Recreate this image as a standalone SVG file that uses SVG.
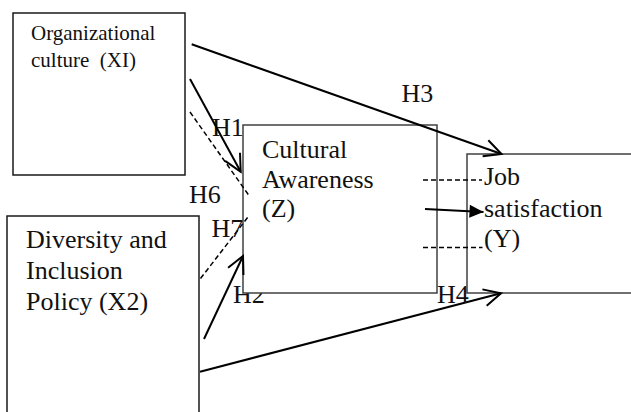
<svg xmlns="http://www.w3.org/2000/svg" width="631" height="412" viewBox="0 0 631 412">
<style>
  .box { fill: #fff; stroke: #1a1a1a; stroke-width: 1.5; }
  .boxg { fill: #fff; stroke: #404040; stroke-width: 1.5; }
  .t { font-family: "Liberation Serif", "Times New Roman", serif; fill: #111; }
  .t21 { font-size: 21px; }
  .t26 { font-size: 26px; }
  .ln { stroke: #000; stroke-width: 2; fill: none; }
  .dl { stroke: #000; stroke-width: 1.5; fill: none; stroke-dasharray: 5 3; }
</style>
<defs>
  <marker id="openArrow" markerUnits="userSpaceOnUse" markerWidth="40" markerHeight="40" refX="0" refY="0" orient="auto" overflow="visible">
    <path d="M-17,-8.5 L0,0 L-17,8.5" fill="none" stroke="#000" stroke-width="2"/>
  </marker>
  <marker id="solidArrow" markerUnits="userSpaceOnUse" markerWidth="40" markerHeight="40" refX="0" refY="0" orient="auto" overflow="visible">
    <path d="M-14,-6.5 L0,0 L-14,6.5 Z" fill="#000"/>
  </marker>
</defs>

<rect width="631" height="412" fill="#fff"/>

<g id="labels-under">
  <text class="t t26" x="233" y="303">H2</text>
  <text class="t t26" x="212" y="136">H1</text>
</g>

<g id="node-xi">
  <rect class="box" x="13" y="13" width="172" height="162"/>
  <text class="t t21" x="31" y="40">Organizational</text>
  <text class="t t21" x="31" y="67" xml:space="preserve">culture  (XI)</text>
</g>

<g id="node-x2">
  <rect class="box" x="7" y="216" width="192" height="220"/>
  <text class="t t26" x="26" y="248">Diversity and</text>
  <text class="t t26" x="26" y="279">Inclusion</text>
  <text class="t t26" x="26" y="310">Policy (X2)</text>
</g>

<g id="node-z">
  <rect class="boxg" x="243" y="125" width="194" height="168"/>
  <text class="t t26" x="262" y="158">Cultural</text>
  <text class="t t26" x="262" y="188">Awareness</text>
  <text class="t t26" x="262" y="217">(Z)</text>
</g>

<g id="node-y">
  <rect class="boxg" x="467" y="154" width="200" height="139"/>
  <text class="t t26" x="484" y="185">Job</text>
  <text class="t t26" x="484" y="217">satisfaction</text>
  <text class="t t26" x="484" y="247">(Y)</text>
</g>

<g id="connectors">
  <line class="ln" x1="191.7" y1="44.3" x2="501.5" y2="154" marker-end="url(#openArrow)"/>
  <line class="ln" x1="190" y1="79" x2="240.7" y2="171.7" marker-end="url(#openArrow)"/>
  <line class="dl" x1="190" y1="112" x2="250" y2="197"/>
  <line class="dl" x1="200.5" y1="278.5" x2="248" y2="217"/>
  <line class="ln" x1="204" y1="339" x2="243" y2="256" marker-end="url(#openArrow)"/>
  <line class="ln" x1="200" y1="371.7" x2="501" y2="293.3" marker-end="url(#openArrow)"/>
  <line class="ln" x1="425" y1="209" x2="483.5" y2="212" marker-end="url(#solidArrow)"/>
  <line class="dl" x1="423" y1="180" x2="482" y2="180"/>
  <line class="dl" x1="423" y1="247.5" x2="482.5" y2="247.5"/>
</g>

<g id="labels">
  <text class="t t26" x="401.5" y="101.5">H3</text>
  <text class="t t26" x="189" y="202.5">H6</text>
  <text class="t t26" x="211.5" y="236.5">H7</text>
  <text class="t t26" x="437" y="303">H4</text>
</g>
</svg>
